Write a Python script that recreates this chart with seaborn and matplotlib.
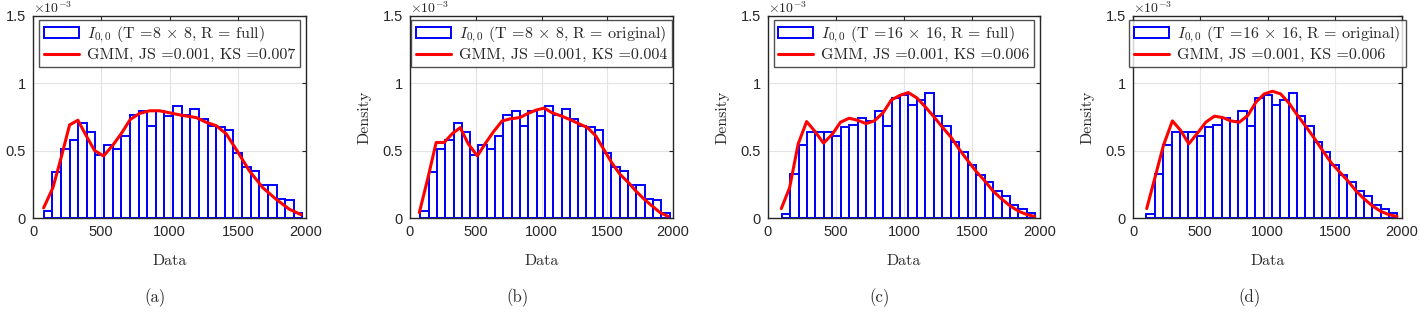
import numpy as np
import pandas as pd
import matplotlib
matplotlib.use("Agg")
import matplotlib.pyplot as plt
import seaborn as sns

# ---------------- data (density values in units of 1e-3) ----------------
hist_8x8 = [0.055, 0.34, 0.51, 0.58, 0.705, 0.64, 0.47, 0.54, 0.51, 0.61,
            0.765, 0.79, 0.68, 0.79, 0.76, 0.83, 0.765, 0.81, 0.735, 0.68,
            0.675, 0.655, 0.48, 0.375, 0.35, 0.245, 0.245, 0.14, 0.135, 0.04]
edges_8x8 = [float(v) for v in np.linspace(78, 1974, 31)]

hist_16x16 = [0.033, 0.325, 0.54, 0.64, 0.64, 0.64, 0.605, 0.675, 0.69, 0.74,
              0.72, 0.795, 0.68, 0.89, 0.91, 0.835, 0.875, 0.93, 0.76, 0.68,
              0.56, 0.49, 0.39, 0.32, 0.265, 0.20, 0.16, 0.095, 0.07, 0.035]
edges_16x16 = [float(v) for v in np.linspace(100, 1966, 31)]

gmm_a_x = [78, 146, 207, 268, 329, 390, 451, 517, 585, 646, 712, 780, 854, 927,
           1000, 1098, 1195, 1268, 1341, 1415, 1500, 1585, 1683, 1780, 1878, 1963]
gmm_a_y = [0.075, 0.225, 0.45, 0.69, 0.725, 0.61, 0.50, 0.46, 0.54, 0.625, 0.73,
           0.775, 0.795, 0.795, 0.78, 0.76, 0.745, 0.71, 0.685, 0.625, 0.49, 0.35,
           0.225, 0.14, 0.065, 0.025]

gmm_b_x = [71, 137, 199, 260, 321, 382, 443, 512, 571, 635, 701, 762, 836, 897,
           958, 1020, 1081, 1154, 1216, 1282, 1350, 1412, 1473, 1534, 1596, 1664,
           1718, 1780, 1840, 1902, 1963]
gmm_b_y = [0.04, 0.30, 0.56, 0.56, 0.625, 0.67, 0.55, 0.46, 0.55, 0.64, 0.72,
           0.735, 0.745, 0.775, 0.80, 0.815, 0.78, 0.755, 0.73, 0.70, 0.67, 0.61,
           0.51, 0.41, 0.325, 0.26, 0.20, 0.14, 0.09, 0.04, 0.012]

gmm_c_x = [98, 159, 222, 284, 347, 408, 472, 533, 597, 658, 721, 782, 846, 907,
           971, 1032, 1095, 1156, 1220, 1281, 1345, 1406, 1469, 1531, 1594, 1655,
           1719, 1780, 1843, 1905, 1961]
gmm_c_y = [0.07, 0.225, 0.55, 0.715, 0.64, 0.555, 0.62, 0.71, 0.74, 0.725, 0.70,
           0.72, 0.78, 0.875, 0.91, 0.93, 0.89, 0.825, 0.75, 0.675, 0.60, 0.51,
           0.425, 0.345, 0.275, 0.20, 0.14, 0.09, 0.05, 0.025, 0.012]

gmm_d_x = [102, 166, 227, 293, 354, 415, 476, 541, 605, 666, 727, 790, 854, 915,
           976, 1037, 1098, 1161, 1224, 1288, 1349, 1410, 1473, 1537, 1598, 1659,
           1720, 1780, 1841, 1902, 1963]
gmm_d_y = [0.07, 0.31, 0.54, 0.72, 0.65, 0.55, 0.625, 0.71, 0.755, 0.745, 0.72,
           0.71, 0.76, 0.86, 0.92, 0.94, 0.92, 0.85, 0.76, 0.675, 0.59, 0.50, 0.41,
           0.34, 0.275, 0.20, 0.14, 0.09, 0.05, 0.025, 0.012]

hist_labels = [r"$I_{0,0}$ (T =8 $\times$ 8, R = full)",
               r"$I_{0,0}$ (T =8 $\times$ 8, R = original)",
               r"$I_{0,0}$ (T =16 $\times$ 16, R = full)",
               r"$I_{0,0}$ (T =16 $\times$ 16, R = original)"]
gmm_labels = ["GMM, JS =0.001, KS =0.007",
              "GMM, JS =0.001, KS =0.004",
              "GMM, JS =0.001, KS =0.006",
              "GMM, JS =0.001, KS =0.006"]
captions = ["(a)", "(b)", "(c)", "(d)"]
x_ticks = [0, 500, 1000, 1500, 2000]
y_ticks = [0, 0.5, 1, 1.5]
y_tick_labels = ["0", "0.5", "1", "1.5"]

panels = [
    (hist_8x8, edges_8x8, gmm_a_x, gmm_a_y),
    (hist_8x8, edges_8x8, gmm_b_x, gmm_b_y),
    (hist_16x16, edges_16x16, gmm_c_x, gmm_c_y),
    (hist_16x16, edges_16x16, gmm_d_x, gmm_d_y),
]

# ---------------- style ----------------
sns.set_theme(style="white")
plt.rcParams["font.family"] = ["cmr10", "DejaVu Serif"]
plt.rcParams["mathtext.fontset"] = "cm"
plt.rcParams["axes.formatter.use_mathtext"] = True

W, H = 1420, 327
fig = plt.figure(figsize=(W / 100, H / 100), dpi=100)

axes_px = [(33, 273), (410, 263), (768, 272), (1133, 269)]
top_px, bot_px = 15.7, 218
caption_x = [155, 517, 880, 1250]
tick_font = dict(family="Liberation Sans", size=10.5)

for i, ((hist, edges, gx, gy), (lx, wx)) in enumerate(zip(panels, axes_px)):
    ax = fig.add_axes([lx / W, 1 - bot_px / H, wx / W, (bot_px - top_px) / H])
    centers = [(a + b) / 2 for a, b in zip(edges[:-1], edges[1:])]
    df = pd.DataFrame({"x": centers, "w": hist})
    sns.histplot(data=df, x="x", weights="w", bins=edges, stat="count",
                 fill=False, element="bars", color="blue", linewidth=1.4,
                 ax=ax, label=hist_labels[i])
    lf = pd.DataFrame({"x": gx, "y": gy})
    sns.lineplot(data=lf, x="x", y="y", color="red", linewidth=2.2, ax=ax,
                 label=gmm_labels[i])

    ax.set_xlim(0, 2000)
    ax.set_ylim(0, 1.5)
    ax.set_xticks(x_ticks)
    ax.set_yticks(y_ticks)
    ax.set_xticklabels([str(t) for t in x_ticks], **tick_font, color="#262626")
    ax.set_yticklabels(y_tick_labels, **tick_font, color="#262626")
    ax.tick_params(direction="in", top=True, right=True, length=3, width=0.8,
                   color="#262626", pad=5)
    ax.grid(True, color="#e3e3e3", linewidth=0.8)
    ax.set_axisbelow(True)
    for s in ax.spines.values():
        s.set_color("#262626")
        s.set_linewidth(1.0)
    ax.set_xlabel("Data", fontsize=11.5, labelpad=11)
    if i > 0:
        ax.set_ylabel("Density", fontsize=11.5, labelpad=8)
    else:
        ax.set_ylabel("")
    ax.text(0.0, 1.0, r"$\times10^{-3}$", transform=ax.transAxes,
            ha="left", va="bottom", fontsize=10, family="Liberation Sans",
            color="#262626")
    handles, labels = ax.get_legend_handles_labels()
    order = [labels.index(hist_labels[i]), labels.index(gmm_labels[i])]
    leg = ax.legend([handles[k] for k in order], [labels[k] for k in order],
                    loc="upper center", bbox_to_anchor=(0.5, 0.995),
                    fontsize=11.5, frameon=True, fancybox=False,
                    edgecolor="#262626", handlelength=2.2, handletextpad=0.5,
                    labelspacing=0.2, borderpad=0.3, borderaxespad=0.2)
    leg.get_frame().set_linewidth(1.0)
    fig.text(caption_x[i] / W, 1 - 298 / H, captions[i], ha="center",
             va="center", fontsize=12)

fig.savefig("out.png", dpi=100)
